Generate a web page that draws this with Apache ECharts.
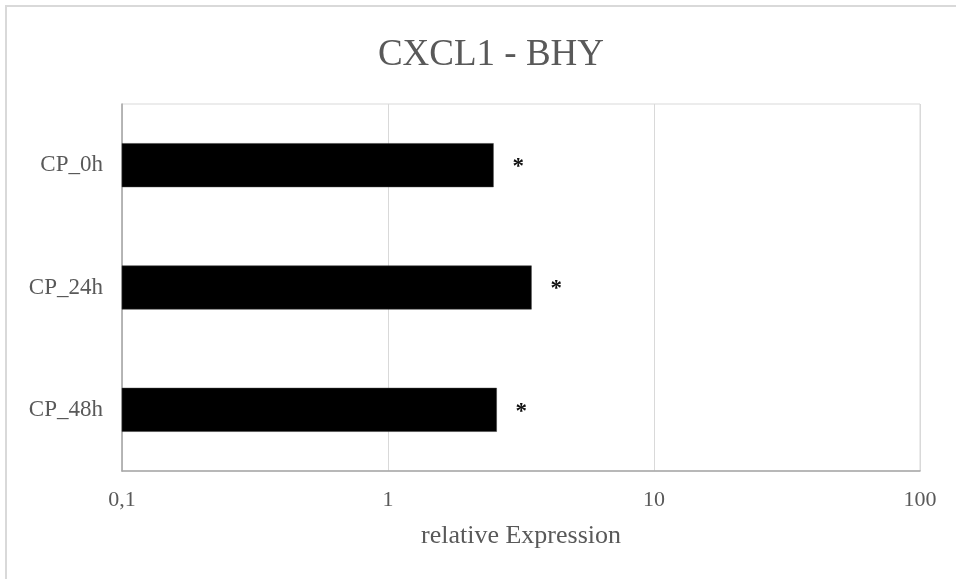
<!DOCTYPE html>
<html>
<head>
<meta charset="utf-8">
<script src="https://cdn.jsdelivr.net/npm/echarts@6/dist/echarts.min.js"></script>
<style>
  html, body { margin: 0; padding: 0; background: #ffffff; }
  #chart { width: 956px; height: 579px; }
</style>
</head>
<body>
<div id="chart"></div>
<script>
// Relative expression of CXCL1 per sampling time (log scale)
const categories = ['CP_0h', 'CP_24h', 'CP_48h'];
const expression = [2.49, 3.46, 2.56];
const significance = ['*', '*', '*'];
const xTicks = [0.1, 1, 10, 100];

const serif = '"Liberation Serif", "Times New Roman", serif';
const textGray = '#595959';

const chart = echarts.init(document.getElementById('chart'), null, { renderer: 'canvas' });

// Bars on a log axis grow from the axis minimum (0.1), so they are drawn
// with a custom series that maps both ends through the axis scale.
function renderBar(params, api) {
  const idx = api.value(1);
  const start = api.coord([xTicks[0], idx]);
  const end = api.coord([api.value(0), idx]);
  const band = api.size([0, 1])[1];
  const h = band * 0.355;
  return {
    type: 'group',
    children: [{
      type: 'rect',
      shape: { x: start[0], y: start[1] - h / 2, width: end[0] - start[0], height: h },
      style: { fill: '#000000', stroke: '#3a3a3a', lineWidth: 0.5 }
    }, {
      type: 'text',
      style: {
        text: significance[params.dataIndex],
        x: end[0] + 19, y: end[1] + 2,
        align: 'left', verticalAlign: 'middle',
        font: 'bold 23px ' + serif, fill: '#111111'
      }
    }]
  };
}

chart.setOption({
  backgroundColor: '#ffffff',
  animation: false,
  title: {
    text: 'CXCL1 - BHY',
    left: 486,
    top: 50,
    textAlign: 'center',
    textVerticalAlign: 'middle',
    textStyle: { fontFamily: serif, fontSize: 37, fontWeight: 'normal', color: textGray }
  },
  graphic: [{
    type: 'rect',
    shape: { x: 6, y: 6, width: 2000, height: 2000 },
    style: { fill: 'none', stroke: '#d9d9d9', lineWidth: 2 },
    silent: true
  }],
  grid: {
    left: 122, right: 36, top: 104, bottom: 108,
    show: true, borderColor: '#d9d9d9', borderWidth: 1,
    containLabel: false
  },
  xAxis: {
    type: 'log',
    logBase: 10,
    min: xTicks[0],
    max: xTicks[xTicks.length - 1],
    name: 'relative Expression',
    nameLocation: 'middle',
    nameGap: 52,
    nameTextStyle: { fontFamily: serif, fontSize: 26, color: textGray },
    axisLine: { show: true, lineStyle: { color: '#a6a6a6', width: 1.5 } },
    axisTick: { show: false },
    minorTick: { show: false },
    splitLine: { show: true, lineStyle: { color: '#d9d9d9', width: 1 } },
    axisLabel: {
      margin: 18,
      fontFamily: serif, fontSize: 22, color: textGray,
      formatter: v => String(Number(v.toPrecision(6))).replace('.', ',')
    }
  },
  yAxis: {
    type: 'category',
    data: categories,
    inverse: true,
    axisLine: { show: true, lineStyle: { color: '#a6a6a6', width: 1.5 } },
    axisTick: { show: false },
    splitLine: { show: false },
    axisLabel: { margin: 19, fontFamily: serif, fontSize: 23, color: textGray }
  },
  series: [{
    type: 'custom',
    renderItem: renderBar,
    encode: { x: 0, y: 1 },
    data: expression.map((v, i) => [v, i]),
    z: 3
  }]
});
</script>
</body>
</html>
